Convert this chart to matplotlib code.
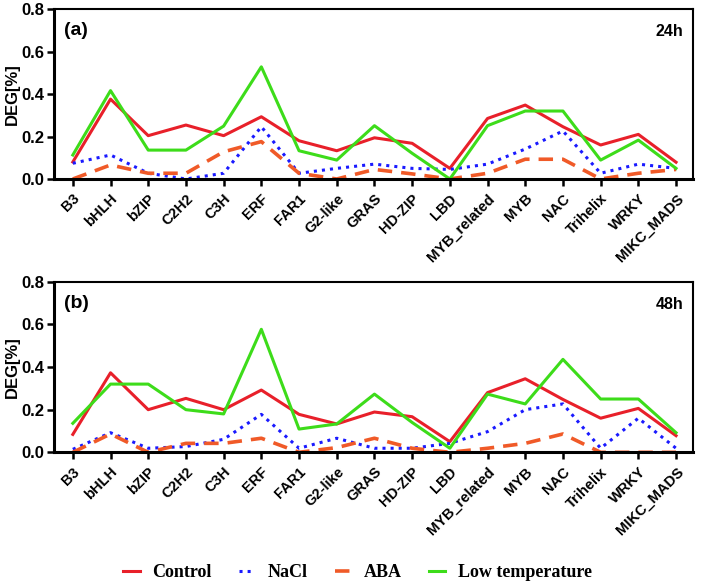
import numpy as np
import matplotlib
matplotlib.use("Agg")
import matplotlib.pyplot as plt

families = ['B3', 'bHLH', 'bZIP', 'C2H2', 'C3H', 'ERF', 'FAR1', 'G2-like', 'GRAS',
            'HD-ZIP', 'LBD', 'MYB_related', 'MYB', 'NAC', 'Trihelix', 'WRKY', 'MIKC_MADS']

# 24h
control_24 = [0.08, 0.376, 0.204, 0.254, 0.204, 0.293, 0.18, 0.133, 0.194, 0.168, 0.05, 0.285, 0.348, 0.246, 0.16, 0.21, 0.079]
nacl_24 = [0.074, 0.113, 0.027, 0.0, 0.027, 0.246, 0.027, 0.05, 0.07, 0.05, 0.045, 0.07, 0.141, 0.226, 0.027, 0.07, 0.05]
aba_24 = [0.0, 0.066, 0.027, 0.027, 0.128, 0.176, 0.027, 0.0, 0.045, 0.024, 0.0, 0.027, 0.093, 0.093, 0.0, 0.027, 0.045]
low_24 = [0.113, 0.416, 0.136, 0.136, 0.249, 0.528, 0.133, 0.089, 0.251, 0.121, 0.0, 0.251, 0.32, 0.32, 0.089, 0.183, 0.05]

# 48h
control_48 = [0.084, 0.373, 0.2, 0.253, 0.2, 0.292, 0.178, 0.133, 0.189, 0.167, 0.05, 0.28, 0.345, 0.248, 0.16, 0.206, 0.078]
nacl_48 = [0.014, 0.092, 0.019, 0.027, 0.061, 0.178, 0.019, 0.066, 0.019, 0.019, 0.042, 0.097, 0.2, 0.227, 0.019, 0.16, 0.019]
aba_48 = [0.0, 0.086, 0.0, 0.042, 0.042, 0.066, 0.0, 0.022, 0.066, 0.019, 0.0, 0.019, 0.042, 0.086, 0.0, 0.0, 0.0]
low_48 = [0.136, 0.32, 0.32, 0.2, 0.18, 0.577, 0.109, 0.133, 0.273, 0.14, 0.019, 0.273, 0.227, 0.436, 0.25, 0.25, 0.092]

plt.rcParams['font.family'] = ['Liberation Sans', 'DejaVu Sans']

fig = plt.figure(figsize=(7.01, 5.84), dpi=100)
ax_a = fig.add_axes([0.077, 0.6935, 0.9116, 0.291])
ax_b = fig.add_axes([0.077, 0.2255, 0.9116, 0.292])

x = np.arange(len(families))
styles = [
    ('Control', '#e8202a', '-', 2.2),
    ('NaCl', '#1a1aff', ':', 2.2),
    ('ABA', '#f05a28', (0, (4, 2.5)), 2.6),
    ('Low temperature', '#3ddc1a', '-', 2.2),
]

panels = [(ax_a, [control_24, nacl_24, aba_24, low_24], '(a)', '24h'),
          (ax_b, [control_48, nacl_48, aba_48, low_48], '(b)', '48h')]

handles = []
for ax, series, tag, tlabel in panels:
    lines = []
    for (name, col, ls, lw), vals in zip(styles, series):
        ln, = ax.plot(x, vals, color=col, linestyle=ls, linewidth=lw, label=name)
        lines.append(ln)
    handles = lines
    ax.set_xlim(-0.5, 16.45)
    ax.set_ylim(0, 0.8)
    ax.set_yticks([0.0, 0.2, 0.4, 0.6, 0.8])
    ax.set_yticklabels(['0.0', '0.2', '0.4', '0.6', '0.8'], fontsize=12, fontweight='bold')
    ax.set_xticks(x)
    ax.set_xticklabels(families, rotation=45, ha='right', rotation_mode='anchor',
                       fontsize=10.5, fontweight='bold')
    ax.set_ylabel('DEG[%]', fontsize=12, fontweight='bold', labelpad=1)
    ax.tick_params(axis='both', direction='out', length=5, width=1.8, pad=2)
    ax.tick_params(axis='x', pad=4)
    for s in ['left', 'bottom']:
        ax.spines[s].set_linewidth(2.2)
    for s in ['top', 'right']:
        ax.spines[s].set_linewidth(1.5)
    ax.text(0.015, 0.875, tag, transform=ax.transAxes, fontsize=14, fontweight='bold', va='center')
    ax.text(0.985, 0.865, tlabel, transform=ax.transAxes, fontsize=11.5, fontweight='bold',
            va='center', ha='right')

fig.legend(handles=handles, loc='center', bbox_to_anchor=(0.51, 0.02), ncol=4, frameon=False,
           prop={'family': 'Liberation Serif', 'weight': 'bold', 'size': 13},
           handlelength=0.9, columnspacing=1.5, handletextpad=0.7)

fig.savefig('out.png', dpi=100)
